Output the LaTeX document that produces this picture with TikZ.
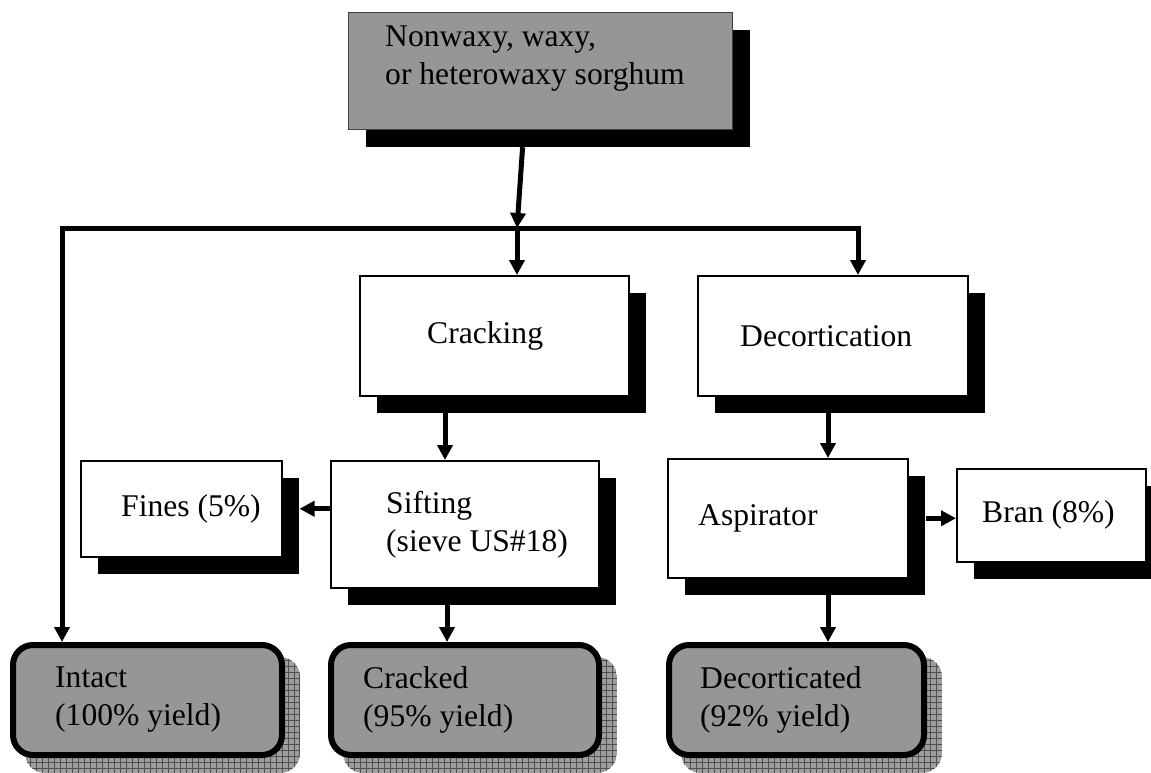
\documentclass[tikz,border=0pt]{standalone}
\usepackage{fontspec}
\setmainfont{Liberation Serif}
\usepackage{tikz}
\definecolor{grain}{RGB}{150,150,150}
\definecolor{hatch}{RGB}{158,158,158}
\definecolor{hatchline}{RGB}{80,80,80}
\usetikzlibrary{positioning,calc,shadows,backgrounds,arrows.meta}

\begin{document}
\begin{tikzpicture}[x=1pt,y=-1pt,
        font=\fontsize{31.6}{38}\selectfont,
        proc/.style={draw,line width=1.5pt,fill=white,anchor=north west,inner sep=0pt,
            drop shadow={shadow xshift=17pt,shadow yshift=-17pt,fill=black,opacity=1}},
        yieldbox/.style={draw,line width=6pt,rounded corners=20pt,fill=grain,
            anchor=north west,inner sep=0pt,minimum height=110pt},
        txt/.style={inner sep=0pt,align=left},
        link/.style={line width=5pt},
        arr/.style={link,-{Triangle[length=15pt,width=15pt]}}]
        \useasboundingbox (0,0) rectangle (1151,772);

        % grain and process steps
        \node[proc,fill=grain,draw=black!75,line width=1.2pt,minimum width=384pt,minimum height=117pt] (src) at (348,12) {};
        \node[txt,below right=14pt and 37pt of src.north west] (srctext) {Nonwaxy, waxy,\\or heterowaxy sorghum};

        \node[proc,minimum width=269pt,minimum height=120pt] (crack) at (359,275) {};
        \node[txt,right=68pt of crack.west] (cracktext) {Cracking};
        \node[proc,minimum width=270pt,minimum height=120pt] (decort) at (697,275) {};
        \node[txt,right=43pt of decort.west] (decorttext) {Decortication};

        \node[proc,minimum width=268pt,minimum height=127pt] (sift) at (330,460) {};
        \node[txt,right=56pt of sift.west] (sifttext) {Sifting\\(sieve US\#18)};
        \node[proc,minimum width=201pt,minimum height=96pt] (fines) at (80,460) {};
        \node[txt,right=41pt of fines.west] (finestext) {Fines (5\%)};
        \node[proc,minimum width=240pt,minimum height=119pt] (aspir) at (667,458) {};
        \node[txt,right=31pt of aspir.west] (aspirtext) {Aspirator};
        \node[proc,minimum width=189pt,minimum height=93pt] (bran) at (956,468) {};
        \node[txt,right=26pt of bran.west] (brantext) {Bran (8\%)};

        % products
        \node[yieldbox,minimum width=269pt] (intact) at (10,642) {};
        \node[txt,right=45pt of intact.west] (intacttext) {Intact\\(100\% yield)};
        \node[yieldbox,minimum width=268pt] (cracked) at (328,642) {};
        \node[txt,right=35pt of cracked.west] (crackedtext) {Cracked\\(95\% yield)};
        \node[yieldbox,minimum width=255pt] (decorted) at (666,642) {};
        \node[txt,right=34pt of decorted.west] (decortedtext) {Decorticated\\(92\% yield)};

        \begin{scope}[on background layer]
            \foreach \b in {intact,cracked,decorted}{
                \begin{scope}
                    \clip[rounded corners=20pt] ($(\b.north west)+(15,15)$) rectangle ($(\b.south east)+(15,15)$);
                    \fill[hatch] ($(\b.north west)+(15,15)$) rectangle ($(\b.south east)+(15,15)$);
                    \draw[hatchline,line width=1pt,step=6pt] ($(\b.north west)+(15,15)$) grid ($(\b.south east)+(15,15)$);
                \end{scope}
            }
        \end{scope}

        % connectors
        \coordinate (hub) at (517,228);
        \coordinate (hubL) at (62,228);
        \coordinate (hubR) at (858,228);
        \coordinate (lanecrack) at (445,0);
        \coordinate (lanesift) at (447,0);
        \coordinate (lanedecort) at (828,0);

        \draw[arr] ($(src.south)+(-18,17)$) -- (hub);
        \draw[link,{Triangle[length=15pt,width=15pt]}-{Triangle[length=15pt,width=15pt]}]
            (intact.north -| hubL) -- (hubL) -- (hubR) -- (decort.north -| hubR);
        \draw[arr] (hub) -- (crack.north -| hub);
        \draw[arr] (crack.south -| lanecrack) -- (sift.north -| lanecrack);
        \draw[arr] (decort.south -| lanedecort) -- (aspir.north -| lanedecort);
        \draw[arr] (sift.west |- fines.east) -- ([xshift=17pt]fines.east);
        \draw[arr] ([xshift=17pt]aspir.east) -- (bran.west |- aspir.east);
        \draw[arr] (sift.south -| lanesift) -- (cracked.north -| lanesift);
        \draw[arr] (aspir.south -| lanedecort) -- (decorted.north -| lanedecort);
    \end{tikzpicture}
\end{document}
